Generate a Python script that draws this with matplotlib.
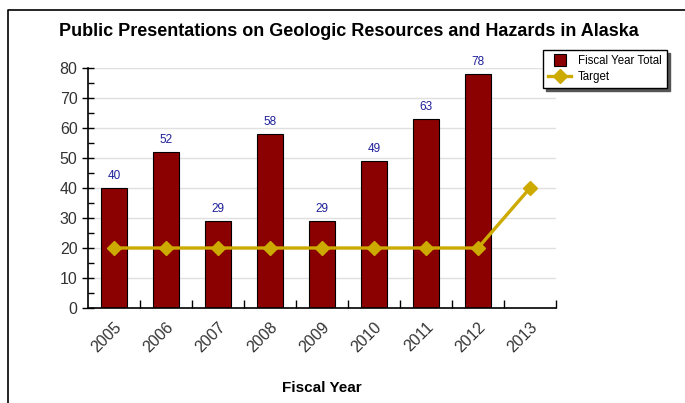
import numpy as np
import matplotlib
matplotlib.use("Agg")
import matplotlib.pyplot as plt
from matplotlib.lines import Line2D
from matplotlib.ticker import MultipleLocator
from matplotlib.transforms import ScaledTranslation

plt.rcParams['font.family'] = ['Liberation Sans', 'DejaVu Sans']

# Data
years   = ["2005", "2006", "2007", "2008", "2009", "2010", "2011", "2012", "2013"]
totals  = [40, 52, 29, 58, 29, 49, 63, 78]
targets = [20, 20, 20, 20, 20, 20, 20, 20, 40]

barCol  = "#8B0000"
lineCol = "#CCAA00"
lblCol  = "#1F1F99"

fig = plt.figure(figsize=(6.85, 4.03), dpi=100)
ax  = fig.add_axes([88/685, 1-308/403, (556-88)/685, (308-68)/403])

xPos = np.arange(len(years))
ax.bar(xPos[:len(totals)], totals, width=0.5, color=barCol,
       edgecolor="black", linewidth=0.8, zorder=2)
ax.plot(xPos, targets, color=lineCol, lw=2.4, marker="D", ms=7, zorder=3)

for x, v in zip(xPos, totals):
    ax.annotate(str(v), (x, v), xytext=(0, 4), textcoords="offset points",
                ha="center", va="bottom", fontsize=8.5, color=lblCol)

ax.set_xlim(-0.5, len(years) - 0.5)
ax.set_ylim(0, 80)
ax.yaxis.set_major_locator(MultipleLocator(10))
ax.yaxis.set_minor_locator(MultipleLocator(5))
ax.grid(axis="y", color="#E0E0E0", lw=1, zorder=0)
ax.set_axisbelow(True)

ax.set_xticks(xPos)
ax.set_xticklabels(years, rotation=45, ha="right", rotation_mode="anchor",
                   fontsize=11.5, color="#333333")
shift = ScaledTranslation(-7/100, 0, fig.dpi_scale_trans)
for t in ax.get_xticklabels():
    t.set_transform(t.get_transform() + shift)
ax.tick_params(axis="x", length=0, pad=8)
ax.set_xticks(np.arange(len(years)) + 0.5, minor=True)
ax.tick_params(axis="x", which="minor", direction="in", length=6, width=1)
ax.tick_params(axis="y", which="major", direction="inout", length=8, width=1,
               labelsize=11.5, labelcolor="#333333")
ax.tick_params(axis="y", which="minor", direction="in", length=4, width=1)

for s in ["top", "right"]:
    ax.spines[s].set_visible(False)
for s in ["left", "bottom"]:
    ax.spines[s].set_linewidth(1.2)

ax.set_xlabel("Fiscal Year", fontsize=11, fontweight="bold", labelpad=19)
fig.text(349/685, 1-31/403, "Public Presentations on Geologic Resources and Hazards in Alaska",
         ha="center", va="center", fontsize=13, fontweight="bold")

hBar  = Line2D([], [], ls="none", marker="s", ms=8, mfc=barCol, mec="black", mew=0.8)
hLine = Line2D([], [], color=lineCol, lw=2.4, marker="D", ms=7)
leg = ax.legend([hBar, hLine], ["Fiscal Year Total", "Target"], loc="upper left",
                bbox_to_anchor=(543/685, 1-50/403),
                bbox_transform=fig.transFigure, fontsize=8.3, frameon=True,
                fancybox=False, edgecolor="black", shadow={"color": "#555555", "alpha": 1},
                borderpad=0.45, handlelength=2.0, labelspacing=0.3, borderaxespad=0,
                handletextpad=0.6)
leg.get_frame().set_linewidth(1)

# outer frame
fig.add_artist(Line2D([8/685, 8/685, 1], [0, 1-10/403, 1-10/403],
                      transform=fig.transFigure, color="black", lw=1.2))

fig.savefig("out.png", dpi=100)
